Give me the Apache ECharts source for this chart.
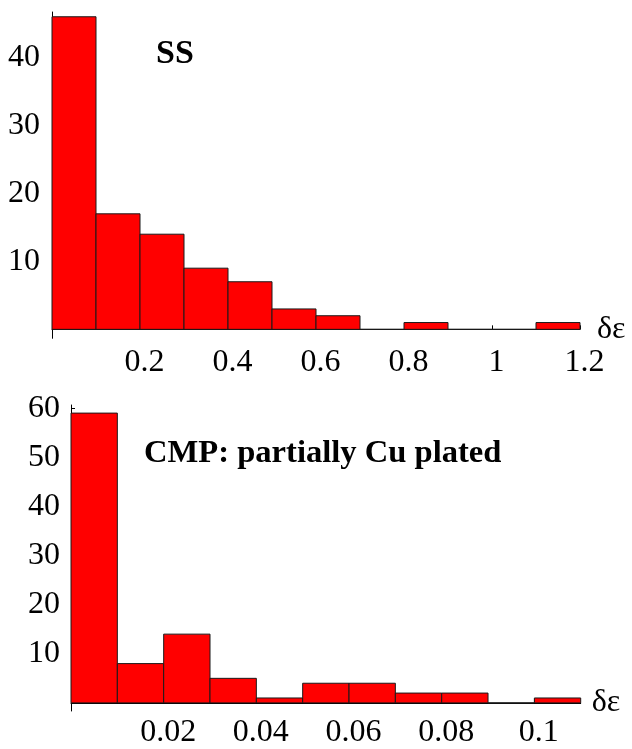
<!DOCTYPE html>
<html>
<head>
<meta charset="utf-8">
<script src="https://cdn.jsdelivr.net/npm/echarts@6/dist/echarts.min.js"></script>
<style>
html,body{margin:0;padding:0;background:#fff;}
#chart{width:632px;height:749px;}
</style>
</head>
<body>
<div id="chart"></div>
<script>
// ---- Data ----
var topTitle = 'SS';
var bottomTitle = 'CMP: partially Cu plated';
var axisName = 'δε';

var topBinEdges = [0, 0.1, 0.2, 0.3, 0.4, 0.5, 0.6, 0.7, 0.8, 0.9, 1.0, 1.1, 1.2];
var topCounts   = [46, 17, 14, 9, 7, 3, 2, 0, 1, 0, 0, 1];
var topXTickValues = [0.2, 0.4, 0.6, 0.8, 1, 1.2];
var topXTickLabels = ['0.2', '0.4', '0.6', '0.8', '1', '1.2'];
var topYTickValues = [10, 20, 30, 40];
var topYTickLabels = ['10', '20', '30', '40'];

var bottomBinEdges = [0, 0.01, 0.02, 0.03, 0.04, 0.05, 0.06, 0.07, 0.08, 0.09, 0.10, 0.11];
var bottomCounts   = [59, 8, 14, 5, 1, 4, 4, 2, 2, 0, 1];
var bottomXTickValues = [0.02, 0.04, 0.06, 0.08, 0.1];
var bottomXTickLabels = ['0.02', '0.04', '0.06', '0.08', '0.1'];
var bottomYTickValues = [10, 20, 30, 40, 50, 60];
var bottomYTickLabels = ['10', '20', '30', '40', '50', '60'];

// ---- Build ----
function binData(edges, counts) {
  var out = [];
  for (var i = 0; i < counts.length; i++) out.push([edges[i], edges[i + 1], counts[i]]);
  return out;
}
function labeler(values, labels) {
  return function (v) {
    for (var i = 0; i < values.length; i++) {
      if (Math.abs(values[i] - v) < 1e-9) return labels[i];
    }
    return '';
  };
}
function renderBar(params, api) {
  var p0 = api.coord([api.value(0), api.value(2)]);
  var p1 = api.coord([api.value(1), 0]);
  return {
    type: 'rect',
    shape: { x: p0[0], y: p0[1], width: p1[0] - p0[0], height: p1[1] - p0[1] },
    style: { fill: '#ff0000', stroke: '#1a1a1a', lineWidth: 1 }
  };
}

var FONT = 'Liberation Serif';
var TICK_FS = 32;
var axisLineStyle = { show: true, onZero: true, lineStyle: { color: '#000', width: 1 } };

function xAxisCfg(gridIndex, max, tv, tl, margin, nameGap, namePadBottom) {
  return {
    type: 'value', gridIndex: gridIndex, min: 0, max: max,
    axisLine: axisLineStyle,
    axisTick: { show: true, inside: true, length: 4, customValues: tv, lineStyle: { color: '#000' } },
    axisLabel: {
      customValues: tv, formatter: labeler(tv, tl),
      fontFamily: FONT, fontSize: TICK_FS, lineHeight: TICK_FS, color: '#000',
      margin: margin, padding: [0, 0, 0, 9]
    },
    splitLine: { show: false },
    name: axisName, nameLocation: 'end', nameGap: nameGap,
    nameTextStyle: { fontFamily: FONT, fontSize: 32, color: '#000', align: 'left', verticalAlign: 'middle', padding: [0, 0, namePadBottom, 0] }
  };
}
function yAxisCfg(gridIndex, min, max, tv, tl, margin) {
  return {
    type: 'value', gridIndex: gridIndex, min: min, max: max,
    axisLine: axisLineStyle,
    axisTick: { show: true, inside: true, length: 4, customValues: tv, lineStyle: { color: '#000' } },
    axisLabel: {
      customValues: tv, formatter: labeler(tv, tl),
      fontFamily: FONT, fontSize: TICK_FS, color: '#000', margin: margin
    },
    splitLine: { show: false }
  };
}

var chart = echarts.init(document.getElementById('chart'), null, { renderer: 'canvas' });
chart.setOption({
  animation: false,
  backgroundColor: '#fff',
  title: [
    { text: topTitle, left: 156, top: 37, padding: 0,
      textStyle: { fontFamily: FONT, fontWeight: 'bold', fontSize: 34, lineHeight: 34, color: '#000' } },
    { text: bottomTitle, left: 144, top: 438, padding: 0,
      textStyle: { fontFamily: FONT, fontWeight: 'bold', fontSize: 32.6, lineHeight: 32, color: '#000' } }
  ],
  grid: [
    { left: 52, right: 52, top: 12, bottom: 410.7, containLabel: false },
    { left: 71, right: 51.3, top: 405, bottom: 27.3, containLabel: false }
  ],
  xAxis: [
    xAxisCfg(0, 1.2, topXTickValues, topXTickLabels, 8, 17, 12),
    xAxisCfg(1, 0.11, bottomXTickValues, bottomXTickLabels, 6, 11, 26)
  ],
  yAxis: [
    yAxisCfg(0, -1.32, 46.7, topYTickValues, topYTickLabels, 12),
    yAxisCfg(1, -1.65, 60.65, bottomYTickValues, bottomYTickLabels, 11)
  ],
  series: [
    { type: 'custom', xAxisIndex: 0, yAxisIndex: 0, renderItem: renderBar,
      encode: { x: [0, 1], y: 2 }, data: binData(topBinEdges, topCounts) },
    { type: 'custom', xAxisIndex: 1, yAxisIndex: 1, renderItem: renderBar,
      encode: { x: [0, 1], y: 2 }, data: binData(bottomBinEdges, bottomCounts) }
  ]
});
</script>
</body>
</html>
